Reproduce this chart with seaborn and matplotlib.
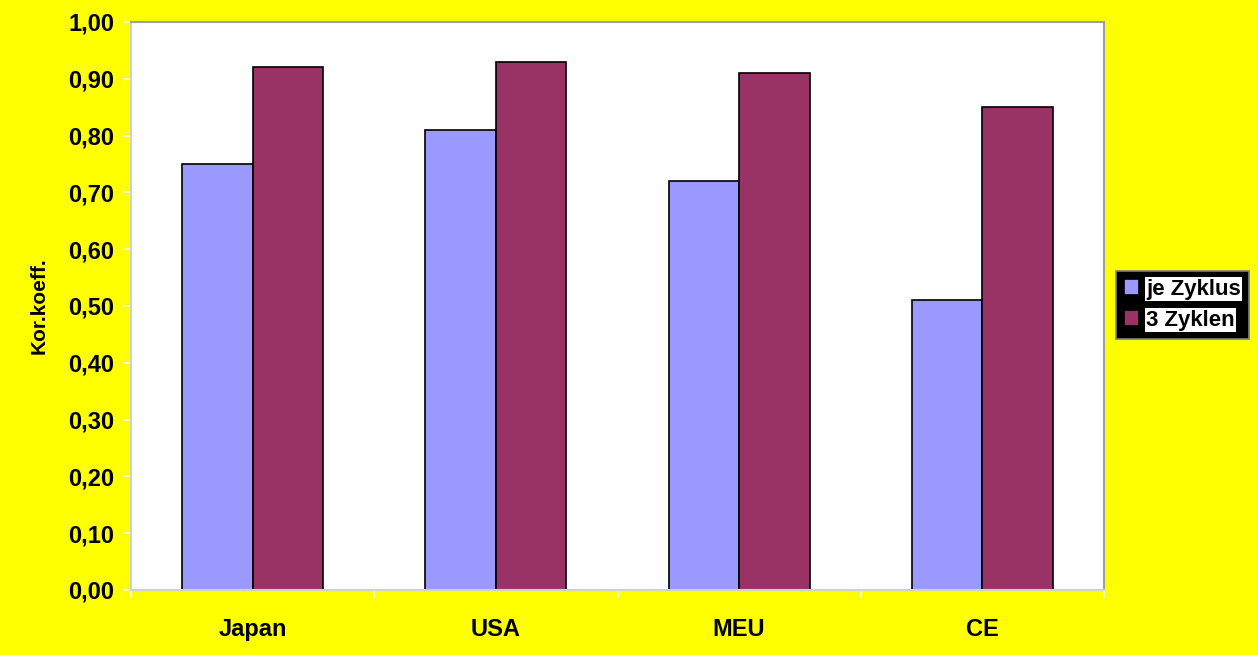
import numpy as np
import pandas as pd
import matplotlib
matplotlib.use("Agg")
import matplotlib.pyplot as plt
import seaborn as sns

regions = ["Japan", "USA", "MEU", "CE"]
je_zyklus = [0.75, 0.81, 0.72, 0.51]
drei_zyklen = [0.92, 0.93, 0.91, 0.85]
series = ["je Zyklus", "3 Zyklen"]
colors = ["#9999FF", "#993366"]

df = pd.DataFrame({
    "region": regions * 2,
    "wert": je_zyklus + drei_zyklen,
    "serie": [series[0]] * len(regions) + [series[1]] * len(regions),
})

sns.set_style("white")
plt.rcParams["font.family"] = ["Liberation Sans", "DejaVu Sans"]
plt.rcParams["font.weight"] = "bold"
plt.rcParams["text.color"] = "black"
plt.rcParams["axes.labelcolor"] = "black"
plt.rcParams["xtick.color"] = "white"
plt.rcParams["ytick.color"] = "white"
plt.rcParams["xtick.labelcolor"] = "black"
plt.rcParams["ytick.labelcolor"] = "black"

fig = plt.figure(figsize=(12.58, 6.55), dpi=100, facecolor="#FFFF00")
ax = fig.add_axes([131 / 1258, 1 - 590 / 655, (1104 - 131) / 1258, (590 - 22) / 655])
ax.set_facecolor("white")

sns.barplot(data=df, x="region", y="wert", hue="serie", palette=colors,
            width=0.58, edgecolor="black", linewidth=1.2, ax=ax, saturation=1)

ax.set_ylim(0, 1.0)
ax.set_xlim(-0.5, len(regions) - 0.5)
yt = np.arange(0, 1.01, 0.1)
ax.set_yticks(yt)
ax.set_yticklabels([f"{v:.2f}".replace(".", ",") for v in yt], fontsize=17, fontweight="bold")
ax.tick_params(axis="y", length=6, width=1.2, color="white", labelcolor="black", pad=6, left=True)
ax.set_xticks(range(len(regions)))
ax.set_xticklabels(regions, fontsize=17, fontweight="bold")
ax.tick_params(axis="x", length=0, pad=20, labelcolor="black")
ax.set_xticks(np.arange(-0.5, len(regions), 1), minor=True)
ax.tick_params(axis="x", which="minor", length=6, width=1.2, color="white", bottom=True)
ax.set_xlabel("")
ax.set_ylabel("Kor.koeff.", fontsize=15, fontweight="bold", labelpad=14, color="black")

for s in ax.spines.values():
    s.set_visible(True)
    s.set_color("#A0A0A0")
    s.set_linewidth(1.5)
ax.spines["bottom"].set_color("#D0D0D0")
ax.spines["left"].set_color("#D0D0D0")

handles, labels = ax.get_legend_handles_labels()
ax.get_legend().remove()
leg = fig.legend(handles, labels, loc="upper left", bbox_to_anchor=(1116 / 1258, 1 - 271 / 655),
                 frameon=True, fancybox=False, facecolor="black", edgecolor="#808080", framealpha=1,
                 prop={"size": 16, "weight": "bold"}, handlelength=0.7, handleheight=0.7,
                 handletextpad=0.3, borderpad=0.35, labelspacing=0.45, borderaxespad=0)
leg.get_frame().set_linewidth(1.2)
for t in leg.get_texts():
    t.set_color("black")
    t.set_bbox(dict(facecolor="white", edgecolor="none", pad=1))

fig.savefig("out.png", dpi=100, facecolor=fig.get_facecolor())
